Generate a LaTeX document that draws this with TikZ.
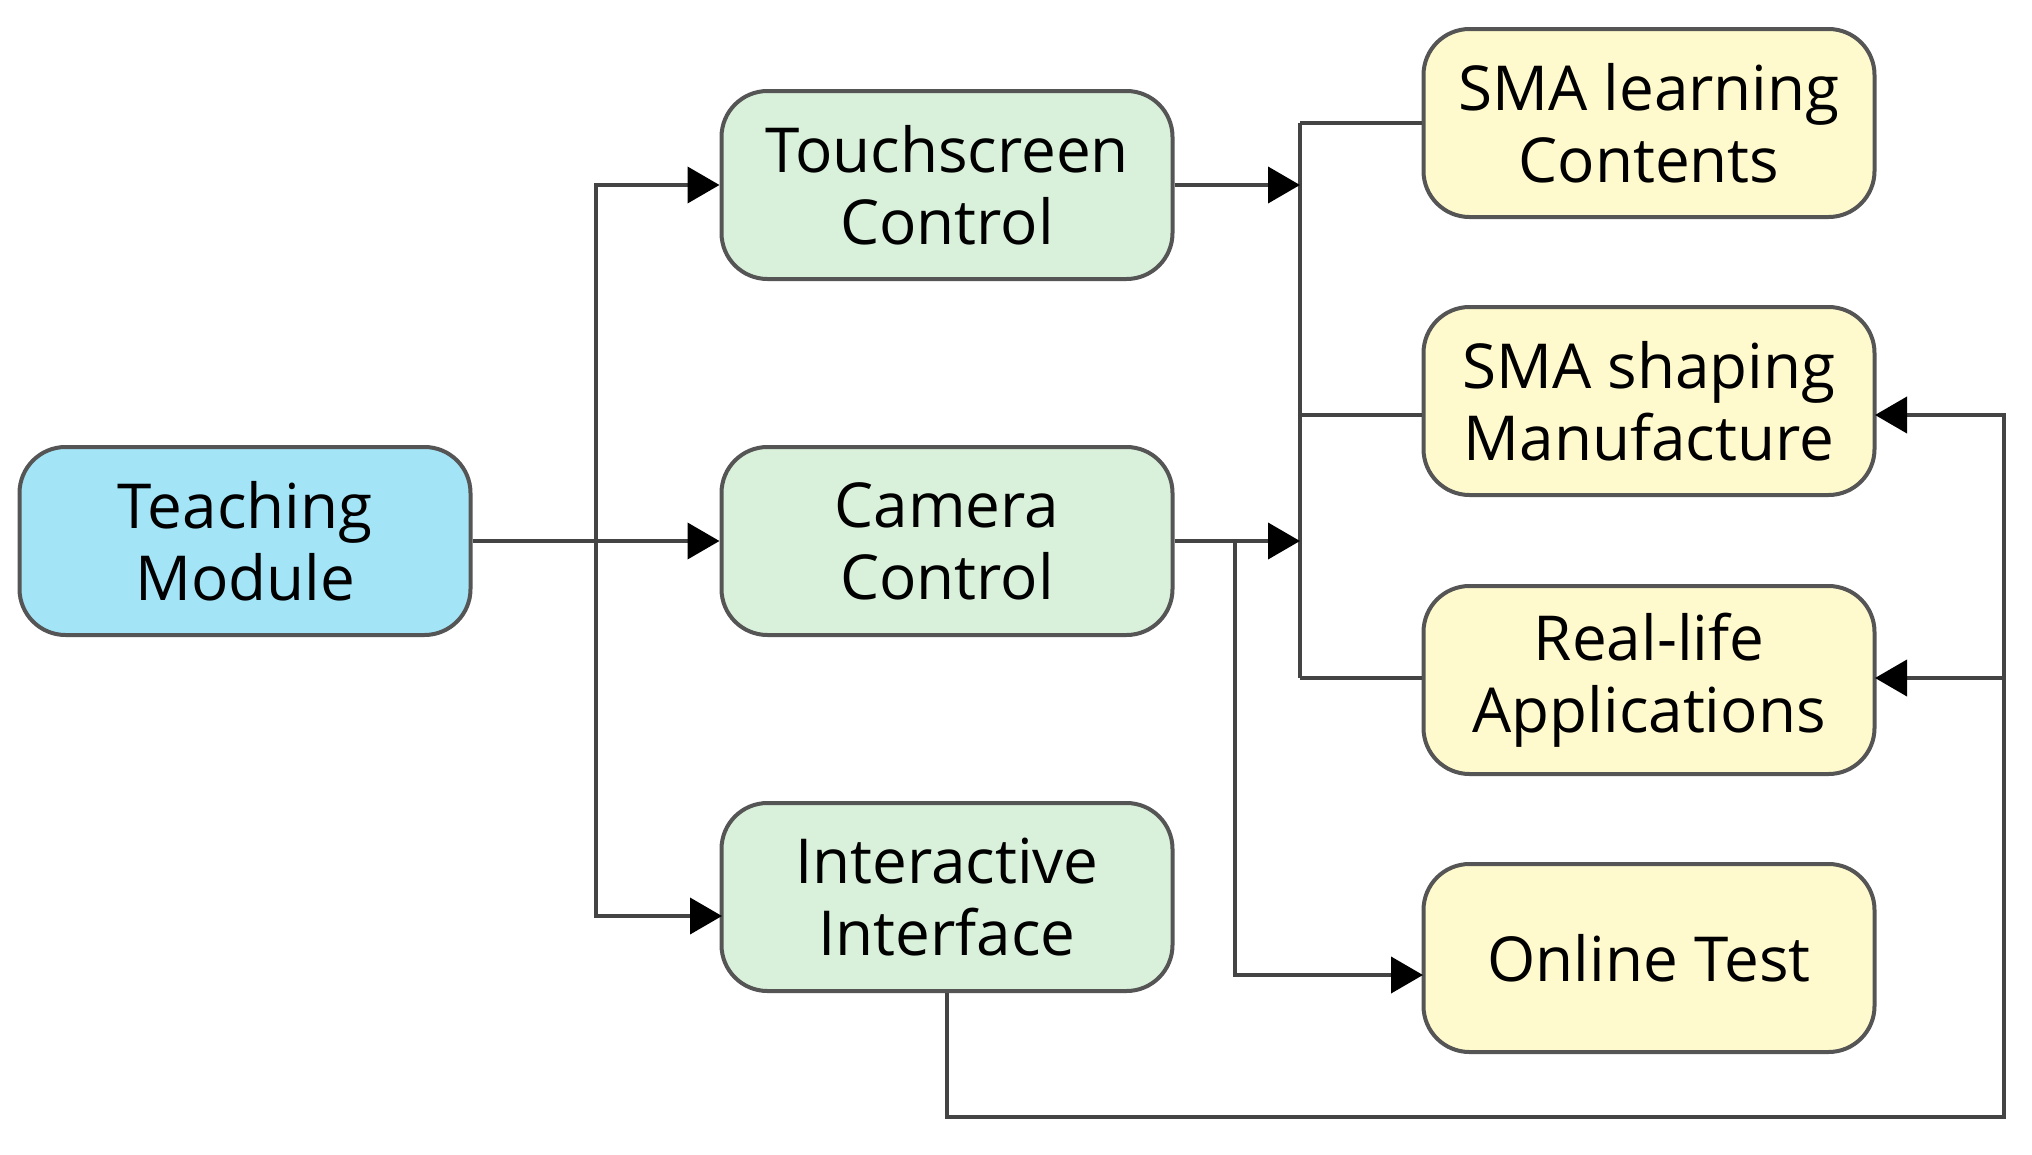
\documentclass[tikz,border=0pt]{standalone}
\usepackage{fontspec}
\setmainfont{Open Sans}
\usetikzlibrary{arrows.meta,calc}
\definecolor{tmblue}{HTML}{A3E4F7}
\definecolor{boxgreen}{HTML}{D9F0DA}
\definecolor{boxyellow}{HTML}{FFFACD}
\definecolor{edge}{HTML}{555555}
\begin{document}
\begin{tikzpicture}[x=1pt,y=-1pt,
  box/.style={draw=edge,line width=4pt,rounded corners=46pt,minimum width=451pt,minimum height=188pt,
    inner sep=0pt,align=center,font=\fontsize{62}{72}\selectfont},
  conn/.style={draw=edge!80!black,line width=4pt},
  arr/.style={conn,-{Triangle[length=32pt,width=36pt,fill=black,color=black]}}]
\useasboundingbox (0,0) rectangle (2032,1154);
\fill[white] (0,0) rectangle (2032,1154);
\node[box,fill=tmblue] (tm) at (245,541) {Teaching\\Module};
\node[box,fill=boxgreen] (tc) at (947,185) {Touchscreen\\Control};
\node[box,fill=boxgreen] (cc) at (947,541) {Camera\\Control};
\node[box,fill=boxgreen] (ic) at (947,897) {Interactive\\Interface};
\node[box,fill=boxyellow] (sl) at (1649,123) {SMA learning\\Contents};
\node[box,fill=boxyellow] (sm) at (1649,401) {SMA shaping\\Manufacture};
\node[box,fill=boxyellow] (ra) at (1649,680) {Real-life\\Applications};
\node[box,fill=boxyellow] (ot) at (1649,958) {Online Test};
\coordinate (b1) at (596,541);
\coordinate (icin) at (722,916);
\coordinate (b2top) at (1300,123);
\coordinate (b2bot) at (1300,678);
\coordinate (b3) at (1235,541);
\coordinate (otin) at (1423,975);
\coordinate (smin) at (1875,415);
\coordinate (rain) at (1875,678);
\coordinate (loop) at (2004,1117);
% left fan-out
\draw[arr] (tm.east) -- (cc.west);
\draw[arr] (b1) |- (tc.west);
\draw[arr] (b1) |- (icin);
% bus to yellow boxes
\draw[conn] (b2top) -- (b2bot);
\draw[conn] (b2top) -- (sl.west);
\draw[conn] (sm.west |- smin) -- (smin -| b2top);
\draw[conn] (ra.west |- rain) -- (b2bot);
\draw[arr] (tc.east) -- (tc.east -| b2top);
\draw[arr] (cc.east) -- (cc.east -| b2top);
% camera to online test
\draw[arr] (b3) |- (otin);
% interactive loop
\draw[arr] (ic.south) |- (loop) |- (smin);
\draw[arr] (loop |- rain) -- (rain);
\end{tikzpicture}
\end{document}
